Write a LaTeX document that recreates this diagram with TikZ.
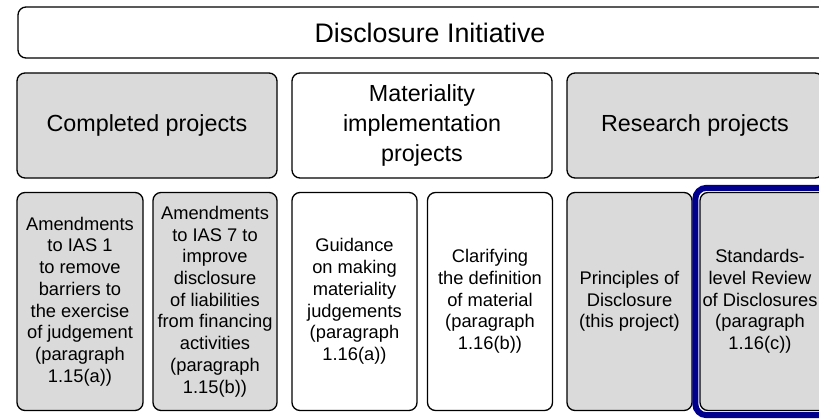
\documentclass[tikz,border=0pt]{standalone}
\usepackage{fontspec}
\setmainfont{Liberation Sans}
\usetikzlibrary{positioning}
\definecolor{boxgray}{RGB}{218,218,218}
\definecolor{ringblue}{RGB}{0,0,140}
\tikzstyle{box}=[draw, rounded corners=8pt, line width=1.3pt, align=center, inner sep=0pt]
\tikzstyle{small}=[box, minimum width=125pt, minimum height=218pt, font=\fontsize{18.3}{21.7}\selectfont]
\tikzstyle{group}=[box, minimum width=260pt, minimum height=105pt, font=\fontsize{23.3}{30}\selectfont]
\newcommand{\boxnode}{\node[small]}

\begin{document}
\begin{tikzpicture}[x=1pt, y=-1pt]
\useasboundingbox (0,0) rectangle (819,420);
\node[box, minimum width=824pt, minimum height=51pt, font=\fontsize{26.8}{30}\selectfont]
  (top) at (430,32.5) {Disclosure Initiative};
\node[group, fill=boxgray] (done) at (147,125.5) {Completed projects};
\node[group] (matl) at (422,125.5) {Materiality\\implementation\\projects};
\node[group, minimum width=256pt, fill=boxgray] (resr) at (695,125.5) {Research projects};
\boxnode[fill=boxgray, minimum width=126pt] (amdA) at (80,301.5)
  {Amendments\\to IAS 1\\to remove\\barriers to\\the exercise\\of judgement\\(paragraph\\1.15(a))};
\boxnode[fill=boxgray, minimum width=124pt] (amdB) at (215,301.5)
  {Amendments\\to IAS 7 to\\improve\\disclosure\\of liabilities\\from financing\\activities\\(paragraph\\1.15(b))};
\boxnode (guide) at (354.5,301.5)
  {Guidance\\on making\\materiality\\judgements\\(paragraph\\1.16(a))};
\boxnode (clarif) at (490,301.5)
  {Clarifying\\the definition\\of material\\(paragraph\\1.16(b))};
\boxnode[fill=boxgray] (princ) at (629.5,301.5)
  {Principles of\\Disclosure\\(this project)};
\boxnode[fill=boxgray, minimum width=134pt] (review) at (767,301.5) {};
\node[align=center, font=\fontsize{18.3}{21.7}\selectfont] (reviewtext) at (760,301.5)
  {Standards-\\level Review\\of Disclosures\\(paragraph\\1.16(c))};
% highlight ring
\draw[ringblue, line width=6pt, rounded corners=11pt]
  ([shift={(-4pt,-4pt)}]review.south west) rectangle ([shift={(4pt,4pt)}]review.north east);
\end{tikzpicture}
\end{document}
